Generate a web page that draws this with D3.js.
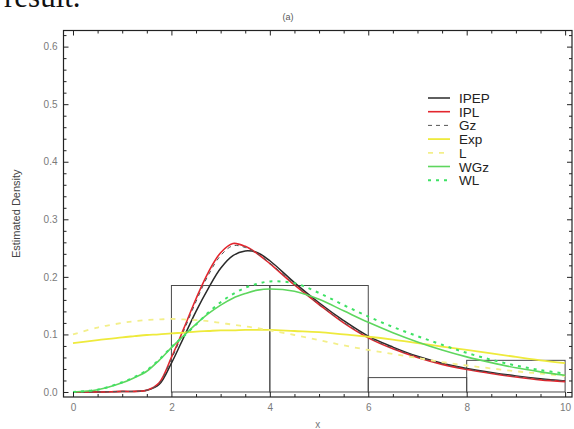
<!DOCTYPE html>
<html>
<head>
<meta charset="utf-8">
<script src="https://cdn.jsdelivr.net/npm/d3@7"></script>
<style>
  html, body { margin: 0; padding: 0; background: #fff; }
  svg { display: block; }
</style>
</head>
<body>
<svg id="chart" width="574" height="429"></svg>
<script>
// Evaluation grid shared by all fitted density curves
const xGrid = [0, 0.5, 1, 1.25, 1.5, 1.75, 2, 2.25, 2.5, 2.75, 3, 3.25, 3.5, 3.75, 4, 4.5, 5, 5.5, 6, 6.5, 7, 7.5, 8, 8.5, 9, 9.5, 10];

// Estimated densities of each fitted model on xGrid
const ipep = [0, 0, 0.001, 0.001, 0.003, 0.013, 0.05, 0.095, 0.14, 0.18, 0.215, 0.237, 0.245, 0.242, 0.228, 0.19, 0.155, 0.124, 0.097, 0.078, 0.062, 0.05, 0.041, 0.034, 0.028, 0.023, 0.019];
const ipl  = [0, 0, 0.001, 0.001, 0.003, 0.016, 0.06, 0.11, 0.162, 0.208, 0.242, 0.258, 0.253, 0.24, 0.223, 0.186, 0.152, 0.12, 0.094, 0.075, 0.06, 0.048, 0.039, 0.032, 0.026, 0.021, 0.018];
const gz   = [0, 0, 0.001, 0.001, 0.003, 0.015, 0.057, 0.106, 0.157, 0.203, 0.237, 0.254, 0.251, 0.24, 0.224, 0.187, 0.152, 0.121, 0.095, 0.076, 0.061, 0.049, 0.04, 0.033, 0.027, 0.022, 0.019];
const expo = [0.085, 0.09, 0.095, 0.097, 0.099, 0.1, 0.102, 0.103, 0.105, 0.106, 0.107, 0.107, 0.108, 0.108, 0.108, 0.106, 0.104, 0.1, 0.096, 0.091, 0.085, 0.079, 0.073, 0.067, 0.061, 0.055, 0.05];
const lind = [0.1, 0.112, 0.12, 0.123, 0.125, 0.126, 0.127, 0.126, 0.125, 0.123, 0.12, 0.117, 0.114, 0.111, 0.107, 0.099, 0.09, 0.081, 0.073, 0.066, 0.059, 0.052, 0.046, 0.041, 0.036, 0.032, 0.028];
const wgz  = [0, 0.004, 0.016, 0.025, 0.036, 0.055, 0.077, 0.098, 0.118, 0.136, 0.151, 0.163, 0.171, 0.177, 0.179, 0.175, 0.161, 0.141, 0.121, 0.103, 0.087, 0.073, 0.061, 0.051, 0.042, 0.035, 0.029];
const wl   = [0, 0.004, 0.017, 0.026, 0.038, 0.056, 0.078, 0.097, 0.117, 0.138, 0.156, 0.17, 0.181, 0.188, 0.192, 0.189, 0.172, 0.151, 0.131, 0.113, 0.097, 0.082, 0.068, 0.056, 0.046, 0.038, 0.032];

// Histogram of the observed data (density scale)
const binEdges = [0, 2, 4, 6, 8, 10];
const binHeights = [0, 0.185, 0.185, 0.025, 0.055];

// Axis ticks
const xMajor = [0, 2, 4, 6, 8, 10];
const yMajor = [0, 0.1, 0.2, 0.3, 0.4, 0.5, 0.6];
const yTickLabels = ["0.0", "0.1", "0.2", "0.3", "0.4", "0.5", "0.6"];

const seriesNames = ["IPEP", "IPL", "Gz", "Exp", "L", "WGz", "WL"];
const seriesValues = [ipep, ipl, gz, expo, lind, wgz, wl];
const seriesStyle = [
  { color: "#2a2a2a", width: 1.5, dash: null },
  { color: "#e3262e", width: 1.6, dash: null },
  { color: "#555555", width: 1.0, dash: "4,4" },
  { color: "#eeea3c", width: 1.8, dash: null },
  { color: "#f3ef8a", width: 1.8, dash: "5,6" },
  { color: "#5ed65e", width: 1.6, dash: null },
  { color: "#3ee264", width: 2.0, dash: "3,5" }
];

const svg = d3.select("#chart");
const plotL = 63.5, plotR = 572, plotT = 30.5, plotB = 397;

const x = d3.scaleLinear().domain([-0.193, 10.14]).range([plotL, plotR]);
const y = d3.scaleLinear().domain([-0.0087, 0.628]).range([plotB, plotT]);

// Cropped line of body text above the figure
svg.append("text")
  .attr("x", 4).attr("y", 7)
  .attr("font-family", "Liberation Serif, Times New Roman, serif")
  .attr("font-size", 31)
  .attr("fill", "#111")
  .text("result.");

// Panel title
svg.append("text")
  .attr("x", 288).attr("y", 20)
  .attr("text-anchor", "middle")
  .attr("font-family", "Liberation Sans, Arial, sans-serif")
  .attr("font-size", 9)
  .attr("fill", "#555")
  .text("(a)");

// Histogram bars
svg.append("g")
  .selectAll("rect")
  .data(binHeights)
  .join("rect")
  .attr("x", (d, i) => x(binEdges[i]))
  .attr("width", (d, i) => x(binEdges[i + 1]) - x(binEdges[i]))
  .attr("y", d => y(d))
  .attr("height", d => y(0) - y(d))
  .attr("fill", "none")
  .attr("stroke", "#4a4a4a")
  .attr("stroke-width", 1);

// Fitted density curves
const line = d3.line()
  .x(d => x(d[0]))
  .y(d => y(d[1]))
  .curve(d3.curveCatmullRom.alpha(0.5));

const curves = svg.append("g");
seriesValues.forEach((vals, k) => {
  const st = seriesStyle[k];
  curves.append("path")
    .datum(xGrid.map((xv, i) => [xv, vals[i]]))
    .attr("d", line)
    .attr("fill", "none")
    .attr("stroke", st.color)
    .attr("stroke-width", st.width)
    .attr("stroke-dasharray", st.dash);
});

// Frame with inward ticks on all four sides
const fontFam = "Liberation Sans, Arial, sans-serif";
const xMinor = d3.range(0, 10.01, 0.5).filter(v => !xMajor.includes(v));
const yMinor = d3.range(0, 0.621, 0.02).filter(v => !yMajor.some(m => Math.abs(m - v) < 1e-6));

function styleAxis(g, showLabels) {
  g.select(".domain").remove();
  g.selectAll(".tick line").attr("stroke", "#222");
  g.selectAll("text")
    .attr("font-family", fontFam)
    .attr("font-size", 10)
    .attr("fill", "#7a7a7a")
    .style("display", showLabels ? null : "none");
}

svg.append("g").attr("transform", `translate(0,${plotB})`)
  .call(d3.axisBottom(x).tickValues(xMajor).tickFormat(d3.format("d")).tickSize(-5).tickPadding(7))
  .call(g => styleAxis(g, true));
svg.append("g").attr("transform", `translate(0,${plotB})`)
  .call(d3.axisBottom(x).tickValues(xMinor).tickSize(-3).tickFormat(""))
  .call(g => styleAxis(g, false));
svg.append("g").attr("transform", `translate(0,${plotT})`)
  .call(d3.axisTop(x).tickValues(xMajor).tickSize(-5).tickFormat(""))
  .call(g => styleAxis(g, false));
svg.append("g").attr("transform", `translate(0,${plotT})`)
  .call(d3.axisTop(x).tickValues(xMinor).tickSize(-3).tickFormat(""))
  .call(g => styleAxis(g, false));

svg.append("g").attr("transform", `translate(${plotL},0)`)
  .call(d3.axisLeft(y).tickValues(yMajor).tickFormat((d, i) => yTickLabels[i]).tickSize(-5).tickPadding(6))
  .call(g => styleAxis(g, true));
svg.append("g").attr("transform", `translate(${plotL},0)`)
  .call(d3.axisLeft(y).tickValues(yMinor).tickSize(-3).tickFormat(""))
  .call(g => styleAxis(g, false));
svg.append("g").attr("transform", `translate(${plotR},0)`)
  .call(d3.axisRight(y).tickValues(yMajor).tickSize(-5).tickFormat(""))
  .call(g => styleAxis(g, false));
svg.append("g").attr("transform", `translate(${plotR},0)`)
  .call(d3.axisRight(y).tickValues(yMinor).tickSize(-3).tickFormat(""))
  .call(g => styleAxis(g, false));

svg.append("rect")
  .attr("x", plotL).attr("y", plotT)
  .attr("width", plotR - plotL).attr("height", plotB - plotT)
  .attr("fill", "none")
  .attr("stroke", "#222")
  .attr("stroke-width", 1.2);

// Axis titles
svg.append("text")
  .attr("transform", `translate(20,${(plotT + plotB) / 2}) rotate(-90)`)
  .attr("text-anchor", "middle")
  .attr("font-family", fontFam)
  .attr("font-size", 11)
  .attr("fill", "#444")
  .text("Estimated Density");

svg.append("text")
  .attr("x", (plotL + plotR) / 2).attr("y", 428)
  .attr("text-anchor", "middle")
  .attr("font-family", fontFam)
  .attr("font-size", 10)
  .attr("fill", "#777")
  .text("x");

// Legend
const legend = svg.append("g").attr("transform", "translate(428,98)");
seriesNames.forEach((name, k) => {
  const st = seriesStyle[k];
  const row = legend.append("g").attr("transform", `translate(0,${k * 13.7})`);
  row.append("line")
    .attr("x1", 0).attr("x2", 22).attr("y1", 0).attr("y2", 0)
    .attr("stroke", st.color)
    .attr("stroke-width", st.width)
    .attr("stroke-dasharray", st.dash);
  row.append("text")
    .attr("x", 31).attr("y", 5)
    .attr("font-family", fontFam)
    .attr("font-size", 13.5)
    .attr("fill", "#222")
    .text(name);
});
</script>
</body>
</html>
